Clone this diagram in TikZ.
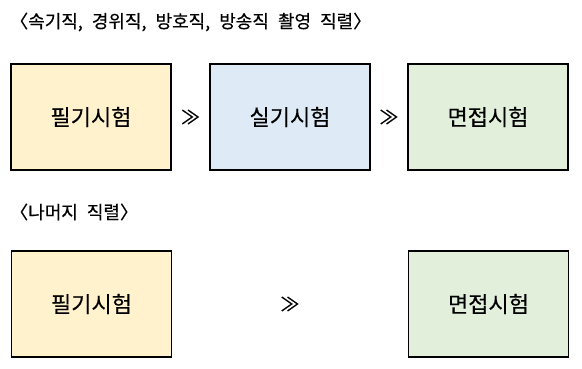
\documentclass[tikz,border=0pt]{standalone}
\usepackage{fontspec}
\setmainfont{Noto Sans CJK KR}[FakeBold=0.4]
\usetikzlibrary{calc}
\definecolor{cyellow}{HTML}{FFF2CC}
\definecolor{cblue}{HTML}{DEEBF7}
\definecolor{cgreen}{HTML}{E2EFDA}
\newcommand\mywidespaces{\spaceskip 9pt\relax}
\tikzset{
  stagebox/.style={draw=black, line width=1.6pt, minimum width=160pt, minimum height=106pt, inner sep=0pt, font=\fontsize{22}{26}\selectfont},
  gtsign/.style={font=\fontsize{19}{20}\selectfont, inner sep=0pt},
  titletext/.style={anchor=west, inner sep=0pt, font=\fontsize{18}{22}\selectfont\mywidespaces}
}
\begin{document}
\begin{tikzpicture}[x=1pt,y=1pt]
\useasboundingbox (0,0) rectangle (582,369);
\node[titletext] (t1) at (10,347) {〈속기직, 경위직, 방호직, 방송직 촬영 직렬〉};
\node[stagebox, fill=cyellow] (a1) at (91,252) {필기시험};
\node[stagebox, fill=cblue] (a2) at (290,252) {실기시험};
\node[stagebox, fill=cgreen] (a3) at (488,252) {면접시험};
\node[gtsign] (g1) at ($(a1.east)!0.5!(a2.west)$) {≫};
\node[gtsign] (g2) at ($(a2.east)!0.5!(a3.west)$) {≫};
\node[titletext] (t2) at (10,157) {〈나머지 직렬〉};
\node[stagebox, fill=cyellow] (b1) at (91.5,65) {필기시험};
\node[stagebox, fill=cgreen] (b3) at (488.5,65) {면접시험};
\node[gtsign] (g3) at ($(b1.east)!0.5!(b3.west)$) {≫};
\end{tikzpicture}
\end{document}
